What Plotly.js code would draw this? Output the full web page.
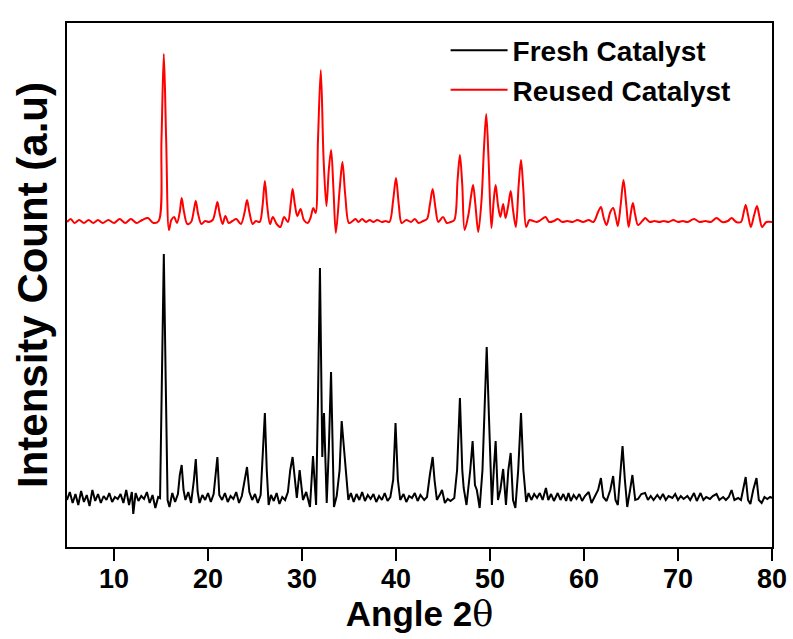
<!DOCTYPE html>
<html>
<head>
<meta charset="utf-8">
<script src="https://cdn.plot.ly/plotly-3.0.1.min.js"></script>
<style>
  html, body { margin: 0; padding: 0; background: #fff; }
  #chart { width: 793px; height: 639px; }
</style>
</head>
<body>
<div id="chart"></div>
<script>
// 2-theta angles (degrees) and intensities (a.u.)
const freshAngle = [5.0,5.3,5.6,5.9,6.2,6.5,6.8,7.1,7.4,7.7,8.0,8.3,8.6,8.9,9.2,9.5,9.8,10.1,10.4,10.7,11.0,11.3,11.6,11.9,12.05,12.3,12.6,12.9,13.2,13.5,13.8,14.1,14.4,14.7,14.9,15.1,15.3,15.5,15.7,15.9,16.2,16.5,16.8,17.0,17.2,17.4,17.6,17.9,18.2,18.5,18.7,18.9,19.1,19.4,19.7,20.0,20.3,20.6,20.85,21.0,21.2,21.5,21.8,22.1,22.4,22.7,23.0,23.3,23.6,23.9,24.15,24.4,24.7,25.0,25.3,25.6,25.85,26.05,26.25,26.45,26.7,27.0,27.3,27.6,27.9,28.2,28.5,28.75,29.0,29.25,29.45,29.75,30.1,30.45,30.85,31.17,31.5,31.7,31.91,32.16,32.34,32.63,32.85,33.09,33.4,33.69,34.0,34.22,34.5,34.93,35.2,35.5,35.8,36.1,36.4,36.7,37.0,37.3,37.6,37.9,38.2,38.5,38.8,39.1,39.4,39.7,39.95,40.2,40.45,40.8,41.1,41.4,41.7,42.0,42.3,42.6,43.0,43.3,43.6,43.9,44.1,44.35,44.7,44.9,45.2,45.5,45.8,46.2,46.5,46.8,47.05,47.2,47.5,47.9,48.15,48.4,48.6,48.9,49.2,49.45,49.65,49.9,50.2,50.4,50.6,50.85,51.1,51.4,51.7,51.95,52.2,52.45,52.7,53.0,53.3,53.55,53.85,54.1,54.4,54.7,55.0,55.3,55.6,55.95,56.2,56.5,56.8,57.2,57.5,57.8,58.1,58.35,58.6,58.9,59.2,59.5,59.8,60.1,60.5,60.8,61.1,61.5,61.8,62.05,62.4,62.8,63.1,63.35,63.6,63.85,64.1,64.35,64.6,64.9,65.15,65.45,65.75,66.1,66.5,66.8,67.1,67.4,67.8,68.1,68.4,68.7,69.0,69.4,69.7,70.0,70.3,70.6,71.0,71.3,71.7,72.0,72.4,72.7,73.0,73.4,73.7,74.1,74.4,74.8,75.1,75.4,75.7,76.0,76.4,76.7,77.0,77.2,77.45,77.7,78.0,78.35,78.6,78.9,79.2,79.5,79.8,80.0];
const freshIntensity = [47,55,44,53,42,56,45,52,41,57,46,53,44,51,47,54,45,50,48,53,44,57,42,55,33,54,46,51,48,55,44,52,39,50,49,167,293,167,47,40,54,45,53,72,82,57,47,55,44,67,88,55,44,52,47,54,45,53,77,90,52,47,54,45,51,48,55,44,51,67,80,55,47,53,44,52,97,134,77,42,52,46,54,43,50,47,55,77,90,69,49,77,47,55,40,91,42,147,279,90,134,44,97,175,40,51,77,126,94,47,54,45,53,47,55,46,52,48,53,45,51,47,54,46,50,67,124,67,47,53,45,51,49,54,46,52,47,50,72,90,67,47,53,57,44,48,46,49,77,149,77,59,42,77,106,62,57,39,77,147,200,127,42,77,106,47,57,78,42,77,94,47,39,77,134,77,45,54,47,53,49,54,47,59,47,53,46,54,47,53,46,54,46,52,48,53,46,51,55,44,49,57,69,50,46,57,71,47,42,72,101,67,40,57,72,47,48,53,54,47,51,47,52,48,53,47,51,49,53,47,51,48,51,47,54,46,54,47,50,48,51,53,47,50,47,50,57,47,49,47,62,70,47,43,57,69,47,44,50,48,50,49];

const reusedAngle = [5.0,5.4,5.8,6.3,6.8,7.3,7.8,8.3,8.8,9.4,10.0,10.6,11.2,11.8,12.4,13.0,13.6,14.2,14.75,15.05,15.3,15.55,15.85,16.1,16.4,16.7,17.0,17.2,17.45,17.8,18.2,18.5,18.7,18.95,19.3,19.7,20.1,20.5,20.8,21.0,21.25,21.55,21.85,22.2,22.6,23.0,23.5,23.9,24.15,24.4,24.75,25.1,25.5,25.8,26.05,26.3,26.6,26.9,27.3,27.7,28.1,28.5,28.8,29.0,29.25,29.5,29.85,30.2,30.6,30.9,31.2,31.45,31.7,32.0,32.3,32.6,32.85,33.1,33.35,33.6,34.0,34.3,34.6,35.0,35.4,35.7,36.0,36.4,36.8,37.2,37.6,38.0,38.5,38.9,39.3,39.7,40.0,40.3,40.6,41.1,41.6,42.0,42.4,42.9,43.3,43.6,43.9,44.2,44.5,45.0,45.4,45.8,46.2,46.55,46.8,47.05,47.3,47.7,48.0,48.2,48.45,48.75,49.1,49.35,49.6,49.85,50.15,50.4,50.6,50.85,51.1,51.4,51.65,51.95,52.2,52.45,52.75,53.05,53.3,53.55,53.85,54.2,54.6,55.0,55.4,55.9,56.3,56.8,57.2,57.7,58.2,58.8,59.3,59.9,60.5,61.0,61.5,61.8,62.1,62.4,62.8,63.1,63.4,63.6,63.9,64.2,64.5,64.75,65.0,65.2,65.45,65.75,66.3,66.5,67.0,67.5,68.0,68.5,69.0,69.5,70.0,70.5,71.0,71.7,72.3,72.9,73.5,74.1,74.7,75.3,75.7,76.2,76.7,77.0,77.2,77.45,77.75,78.1,78.4,78.65,78.95,79.4,80.0];
const reusedIntensity = [325,328,324,327,324,327,324,327,324,327,324,328,324,328,324,327,329,324,326,407,493,407,317,327,330,324,335,349,335,323,325,337,346,333,323,326,325,327,337,345,333,323,331,324,326,328,323,335,347,335,323,326,325,341,366,341,323,330,323,320,330,325,343,358,342,331,338,327,324,329,339,334,407,477,387,341,377,397,357,314,357,385,352,324,326,328,325,328,325,327,325,327,325,326,325,347,369,342,324,327,325,328,324,326,328,342,358,339,325,330,324,325,327,367,392,362,317,332,352,362,342,315,347,397,433,387,319,347,362,342,330,343,329,342,356,337,320,362,387,357,320,327,326,325,327,330,325,326,328,325,326,325,327,325,327,325,335,340,329,322,335,339,329,321,342,367,342,320,335,344,332,322,327,329,325,326,325,326,325,327,325,326,325,328,325,326,325,329,325,326,329,325,325,335,342,332,320,332,341,331,320,325,325];

const seriesNames = ["Fresh Catalyst", "Reused Catalyst"];
const xTickValues = [10, 20, 30, 40, 50, 60, 70, 80];

const traces = [
  {
    x: freshAngle, y: freshIntensity, name: seriesNames[0],
    type: "scatter", mode: "lines",
    line: { color: "#000000", width: 2 }
  },
  {
    x: reusedAngle, y: reusedIntensity, name: seriesNames[1],
    type: "scatter", mode: "lines",
    line: { color: "#ff0000", width: 2, shape: "spline", smoothing: 0.9 }
  }
];

const boldFont = "Liberation Sans, Arial, sans-serif";

const layout = {
  width: 793, height: 639,
  margin: { l: 67, r: 21, t: 23, b: 92 },
  paper_bgcolor: "#ffffff", plot_bgcolor: "#ffffff",
  showlegend: true,
  legend: {
    x: 0.537, y: 0.995, xanchor: "left", yanchor: "top",
    bgcolor: "rgba(0,0,0,0)",
    itemwidth: 57,
    font: { family: boldFont, size: 28, color: "#000", weight: "bold" },
    tracegroupgap: 0
  },
  xaxis: {
    range: [5, 80],
    tickvals: xTickValues,
    ticks: "outside", ticklen: 12, tickwidth: 2, tickcolor: "#000",
    showline: true, linecolor: "#000", linewidth: 2, mirror: true,
    showgrid: false, zeroline: false,
    automargin: "bottom",
    ticklabelstandoff: -5,
    tickfont: { family: boldFont, size: 27, color: "#000", weight: "bold" },
    title: {
      text: "Angle 2<span style=\"font-family:'DejaVu Serif';font-weight:normal\">θ</span>",
      font: { family: boldFont, size: 35, color: "#000", weight: "bold" },
      standoff: 0
    }
  },
  yaxis: {
    range: [0, 524],
    showticklabels: false, ticks: "",
    showline: true, linecolor: "#000", linewidth: 2, mirror: true,
    showgrid: false, zeroline: false,
    title: {
      text: "Intensity Count (a.u)",
      font: { family: boldFont, size: 42, color: "#000", weight: "bold" },
      standoff: 4
    }
  }
};

Plotly.newPlot("chart", traces, layout, { displayModeBar: false, staticPlot: true });
</script>
</body>
</html>
